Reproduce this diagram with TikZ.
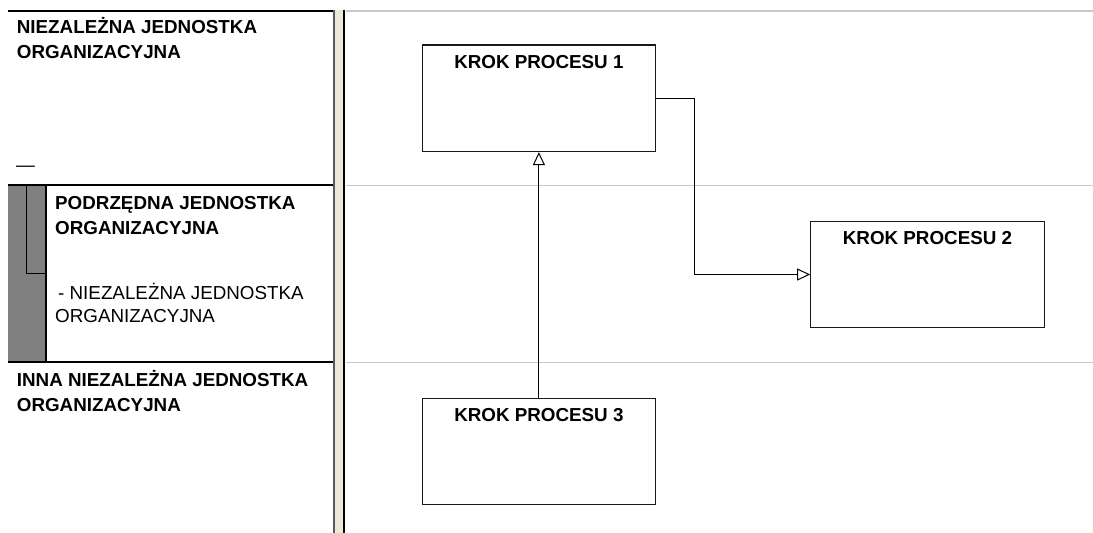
\documentclass[tikz,border=0pt]{standalone}
\usepackage{fontspec}
\setmainfont{Liberation Sans}
\usetikzlibrary{arrows.meta}
\definecolor{sepbeige}{HTML}{ECE9D8}
\definecolor{guidegray}{HTML}{C8C8C8}
\definecolor{markgray}{HTML}{808080}
\begin{document}
\begin{tikzpicture}[x=1pt,y=-1pt,
  lanehead/.style={font=\fontsize{18.8}{23}\selectfont\bfseries, anchor=base west, inner sep=0pt},
  lanenote/.style={font=\fontsize{18.8}{23}\selectfont, anchor=base west, inner sep=0pt},
  stepbox/.style={draw=black!90, line width=1.3pt, minimum width=233.4pt, minimum height=106.5pt, inner sep=0pt},
  steptitle/.style={font=\fontsize{18.8}{23}\selectfont\bfseries, anchor=base, inner sep=0pt},
  conn/.style={line width=1pt, -{Triangle[open,length=13pt,width=12pt]}},
  laneline/.style={draw=black, line width=2pt},
  guide/.style={draw=guidegray, line width=1.3pt}]
\useasboundingbox (0,0) rectangle (1093,533);
% right-side lane guides
\draw[guide] (346,11) -- (1093,11);
\draw[guide] (346,185.5) -- (1093,185.5);
\draw[guide] (346,362.5) -- (1093,362.5);
% left lane headers
\fill[markgray] (8,185) rectangle (46,361.5);
\draw[black, line width=1.5pt] (46,185) -- (46,361.5);
\draw[black, line width=1pt] (26.7,186) |- (46,273);
\draw[laneline, line width=1.6pt] (8,11) -- (333.5,11);
\draw[laneline] (8,184.5) -- (333.5,184.5);
\draw[laneline] (8,362) -- (333.5,362);
% separator
\fill[sepbeige] (334,10) rectangle (343.5,533);
\draw[black!65, line width=1.2pt] (334,10) -- (334,533);
\draw[black, line width=2.2pt] (344,10) -- (344,533);
% texts
\node[lanehead] (h1a) at (16.7,33.3) {NIEZALEŻNA JEDNOSTKA};
\node[lanehead] (h1b) at (16.7,58.3) {ORGANIZACYJNA};
\node[lanenote] (h1c) at (16,171) {—};
\node[lanehead] (h2a) at (55,209) {PODRZĘDNA JEDNOSTKA};
\node[lanehead] (h2b) at (55,234) {ORGANIZACYJNA};
\node[lanenote] (h2c) at (58,299.3) {- NIEZALEŻNA JEDNOSTKA};
\node[lanenote] (h2d) at (55,322.7) {ORGANIZACYJNA};
\node[lanehead] (h3a) at (16.7,386.7) {INNA NIEZALEŻNA JEDNOSTKA};
\node[lanehead] (h3b) at (16.7,411.7) {ORGANIZACYJNA};
% process steps
\node[stepbox] (k1) at (538.9,98.2) {};
\node[stepbox] (k2) at (927.5,274.5) {};
\node[stepbox] (k3) at (538.9,451.5) {};
\node[steptitle] (k1t) at ([yshift=-24pt]k1.north) {KROK PROCESU 1};
\node[steptitle] (k2t) at ([yshift=-24pt]k2.north) {KROK PROCESU 2};
\node[steptitle] (k3t) at ([yshift=-23.5pt]k3.north) {KROK PROCESU 3};
% connectors
\coordinate (bend) at (694.3,98.2);
\draw[conn] (k3.north) -- (k1.south);
\draw[conn] (k1.east) -- (bend) |- (k2.west);
\end{tikzpicture}
\end{document}
